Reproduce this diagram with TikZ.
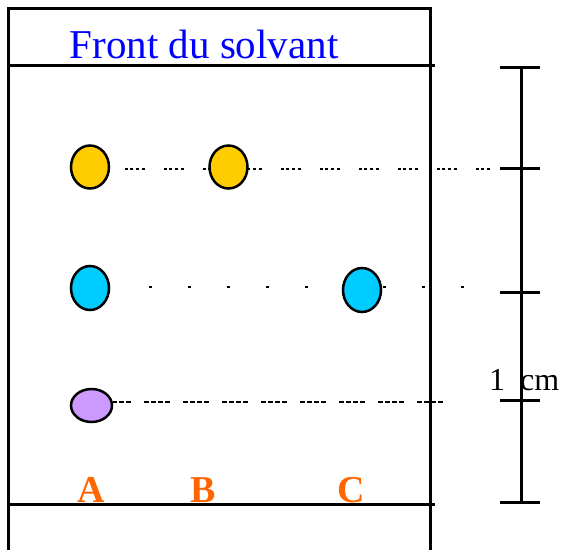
\documentclass[tikz,border=0pt]{standalone}
\usepackage{fontspec}
\setmainfont{Liberation Serif}
\usepackage{tikz}
\usetikzlibrary{shapes.geometric,backgrounds}
\definecolor{frontblue}{RGB}{0,0,255}
\definecolor{laneorange}{RGB}{255,102,0}
\definecolor{spotyellow}{RGB}{255,204,0}
\definecolor{spotcyan}{RGB}{0,204,255}
\definecolor{spotlilac}{RGB}{204,153,255}

\begin{document}
\begin{tikzpicture}[x=1pt,y=-1pt,
  plate/.style={line width=3pt},
  spot/.style={draw,ellipse,line width=2.5pt,inner sep=0pt,minimum width=38pt,minimum height=43pt},
  lane/.style={text=laneorange,font=\fontsize{38}{40}\selectfont\bfseries,anchor=base,inner sep=0pt},
  trail/.style={line width=2.5pt}]
\useasboundingbox (0,0) rectangle (566,550);
% plaque
\draw[plate] (8,550) -- (8,8) -- (430,8) -- (430,550);
\draw[plate] (8,65) -- (435,65);
\draw[plate] (8,504) -- (435,504);
\node[anchor=base west,inner sep=0pt,text=frontblue,font=\fontsize{41}{44}\selectfont] (front) at (69.5,58) {Front du solvant};
% taches
\node[spot,fill=spotyellow] (ya) at (90,167) {};
\node[spot,fill=spotyellow] (yb) at (228.5,167) {};
\node[spot,fill=spotcyan,minimum height=44pt] (ca) at (90,288) {};
\node[spot,fill=spotcyan,minimum height=44pt] (cc) at (362,290) {};
\node[spot,fill=spotlilac,minimum width=41pt,minimum height=33pt] (pa) at (91.5,405.5) {};
\coordinate (yend) at (493,169);
\coordinate (cend) at (480,287);
\coordinate (pend) at (453,402);
\begin{scope}[on background layer]
\draw[trail,dash pattern=on 3pt off 2pt on 3pt off 3pt on 3pt off 3pt on 3pt off 19pt,dash phase=24pt] (ya.east |- yend) -- (yend);
\draw[trail,dash pattern=on 3pt off 36pt,dash phase=3pt,shorten <=3pt] (ca.east |- cend) -- (cend);
\draw[trail,line width=2pt,dash pattern=on 5pt off 2pt on 5pt off 2pt on 5pt off 2pt on 5pt off 13pt,dash phase=8pt] (pa.east |- pend) -- (pend);
\end{scope}
% depots
\node[lane] (la) at (91.5,502) {A};
\node[lane] (lb) at (203,502) {B};
\node[lane] (lc) at (351,502) {C};
% regle
\node[anchor=base west,inner sep=0pt,font=\fontsize{32}{35}\selectfont] (cm) at (489,390) {1\hspace{15pt}cm};
\draw[plate] (521,67) -- (521,504);
\foreach \y in {67,168,292,400,502}
  \draw[plate] (500,\y) -- (540,\y);
\end{tikzpicture}
\end{document}
